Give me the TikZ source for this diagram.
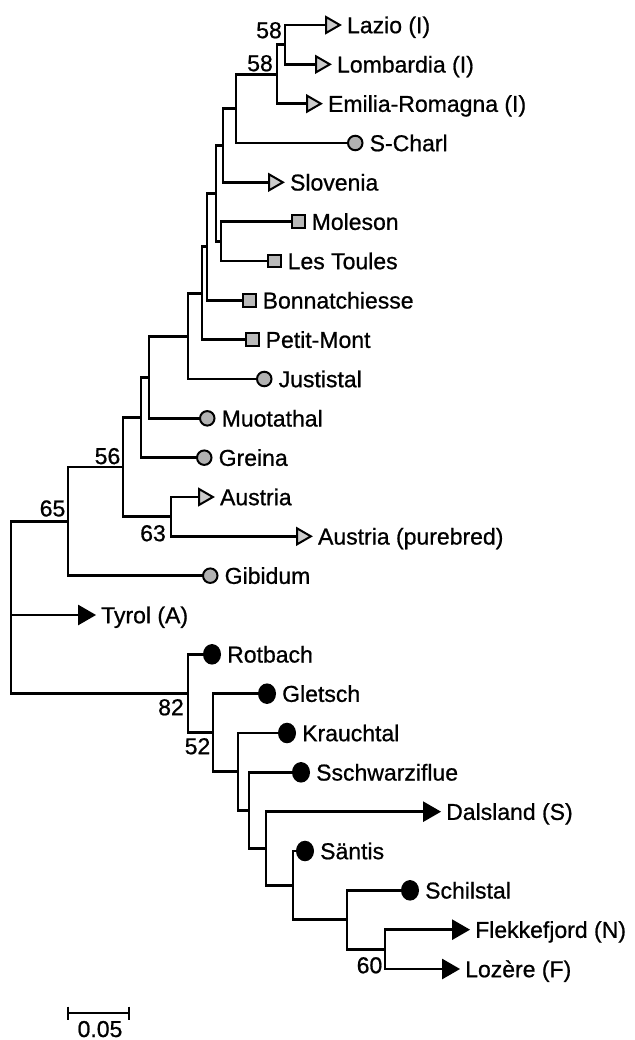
\documentclass[tikz,border=0pt]{standalone}
\usepackage{fontspec}
\setmainfont{Liberation Sans}
\newfontfamily\lblfont{Liberation Sans}[FakeBold=0.8]
\usetikzlibrary{shapes.geometric}
\tikzset{
  br/.style={line width=2.8pt, line join=miter, draw=black},
  mk/.style={inner sep=0pt, outer sep=0pt, line width=2pt, draw=black, anchor=west},
  otri/.style={mk, regular polygon, regular polygon sides=3, shape border rotate=-90, minimum size=18.5pt, fill=gray!40},
  ftri/.style={mk, regular polygon, regular polygon sides=3, shape border rotate=-90, minimum size=20pt, fill=black},
  gsq/.style={mk, rectangle, minimum size=12.5pt, fill=gray!55},
  gcirc/.style={mk, circle, minimum size=14.5pt, fill=gray!60},
  bcirc/.style={mk, ellipse, minimum width=16pt, minimum height=18.5pt, fill=black},
  lbl/.style={anchor=base west, inner sep=0pt, font=\lblfont\fontsize{23}{27}\selectfont},
  bs/.style={inner sep=0pt, font=\lblfont\fontsize{23}{27}\selectfont}
}
\begin{document}
\begin{tikzpicture}[x=1pt, y=-1pt]
\useasboundingbox (0,0) rectangle (634,1040);
% leaf markers
\node[otri] (mLazio) at (326,25) {};
\node[otri] (mLomb) at (316,64.33) {};
\node[otri] (mEmil) at (307,103.67) {};
\node[gcirc] (mSCharl) at (348,143) {};
\node[otri] (mSlov) at (269,182.33) {};
\node[gsq] (mMoles) at (292,221.67) {};
\node[gsq] (mToules) at (268,261) {};
\node[gsq] (mBonn) at (243,300.33) {};
\node[gsq] (mPetit) at (246,339.67) {};
\node[gcirc] (mJust) at (257,379) {};
\node[gcirc] (mMuot) at (200,418.33) {};
\node[gcirc] (mGrei) at (197,457.67) {};
\node[otri] (mAust) at (199,497) {};
\node[otri] (mAustP) at (297,536.33) {};
\node[gcirc] (mGibi) at (203,575.67) {};
\node[ftri] (mTyrol) at (79,615) {};
\node[bcirc] (mRotb) at (204,654.33) {};
\node[bcirc] (mGlet) at (259,693.67) {};
\node[bcirc] (mKrau) at (279,733) {};
\node[bcirc] (mSsch) at (293,772.33) {};
\node[ftri] (mDals) at (424,811.67) {};
\node[bcirc] (mSant) at (297,851) {};
\node[bcirc] (mSchi) at (402,890.33) {};
\node[ftri] (mFlek) at (453,929.67) {};
\node[ftri] (mLoze) at (443,969) {};
% leaf texts
\node[lbl] (tLazio) at ([shift={(7pt,-8.2pt)}]mLazio.east) {Lazio (I)};
\node[lbl] (tLomb) at ([shift={(7pt,-8.2pt)}]mLomb.east) {Lombardia (I)};
\node[lbl] (tEmil) at ([shift={(7pt,-8.2pt)}]mEmil.east) {Emilia-Romagna (I)};
\node[lbl] (tSCharl) at ([shift={(7pt,-8.2pt)}]mSCharl.east) {S-Charl};
\node[lbl] (tSlov) at ([shift={(7pt,-8.2pt)}]mSlov.east) {Slovenia};
\node[lbl] (tMoles) at ([shift={(7pt,-8.2pt)}]mMoles.east) {Moleson};
\node[lbl] (tToules) at ([shift={(7pt,-8.2pt)}]mToules.east) {Les Toules};
\node[lbl] (tBonn) at ([shift={(7pt,-8.2pt)}]mBonn.east) {Bonnatchiesse};
\node[lbl] (tPetit) at ([shift={(7pt,-8.2pt)}]mPetit.east) {Petit-Mont};
\node[lbl] (tJust) at ([shift={(7pt,-8.2pt)}]mJust.east) {Justistal};
\node[lbl] (tMuot) at ([shift={(7pt,-8.2pt)}]mMuot.east) {Muotathal};
\node[lbl] (tGrei) at ([shift={(7pt,-8.2pt)}]mGrei.east) {Greina};
\node[lbl] (tAust) at ([shift={(7pt,-8.2pt)}]mAust.east) {Austria};
\node[lbl] (tAustP) at ([shift={(7pt,-8.2pt)}]mAustP.east) {Austria (purebred)};
\node[lbl] (tGibi) at ([shift={(7pt,-8.2pt)}]mGibi.east) {Gibidum};
\node[lbl] (tTyrol) at ([shift={(7pt,-8.2pt)}]mTyrol.east) {Tyrol (A)};
\node[lbl] (tRotb) at ([shift={(7pt,-8.2pt)}]mRotb.east) {Rotbach};
\node[lbl] (tGlet) at ([shift={(7pt,-8.2pt)}]mGlet.east) {Gletsch};
\node[lbl] (tKrau) at ([shift={(7pt,-8.2pt)}]mKrau.east) {Krauchtal};
\node[lbl] (tSsch) at ([shift={(7pt,-8.2pt)}]mSsch.east) {Sschwarziflue};
\node[lbl] (tDals) at ([shift={(7pt,-8.2pt)}]mDals.east) {Dalsland (S)};
\node[lbl] (tSant) at ([shift={(7pt,-8.2pt)}]mSant.east) {Säntis};
\node[lbl] (tSchi) at ([shift={(7pt,-8.2pt)}]mSchi.east) {Schilstal};
\node[lbl] (tFlek) at ([shift={(7pt,-8.2pt)}]mFlek.east) {Flekkefjord (N)};
\node[lbl] (tLoze) at ([shift={(7pt,-8.2pt)}]mLoze.east) {Lozère (F)};
% internal nodes
\coordinate (n58a) at (285,44.67);
\coordinate (n58b) at (277,74.17);
\coordinate (nSC) at (236,108.58);
\coordinate (nSlo) at (223,145.46);
\coordinate (nMol) at (221,241.33);
\coordinate (nA) at (216,193.40);
\coordinate (nB) at (207,246.87);
\coordinate (nC) at (202,293.27);
\coordinate (nD) at (188,336.13);
\coordinate (nE) at (149,377.23);
\coordinate (nF) at (141,417.45);
\coordinate (n63) at (171,516.67);
\coordinate (n56) at (123,467.06);
\coordinate (n65) at (68,521.36);
\coordinate (root) at (11,615);
\coordinate (n60) at (385,949.33);
\coordinate (nSch) at (347,919.83);
\coordinate (nSa) at (293,885.42);
\coordinate (nD2) at (266,848.54);
\coordinate (nS) at (249,810.44);
\coordinate (nK) at (238,771.72);
\coordinate (n52) at (213,732.69);
\coordinate (n82) at (188,693.51);
% branches
\draw[br] (root) |- (n65);
\draw[br] (root) |- (mTyrol.west);
\draw[br] (root) |- (n82);
\draw[br] (n65) |- (n56);
\draw[br] (n65) |- (mGibi.west);
\draw[br] (n56) |- (nF);
\draw[br] (n56) |- (n63);
\draw[br] (n63) |- (mAust.west);
\draw[br] (n63) |- (mAustP.west);
\draw[br] (nF) |- (nE);
\draw[br] (nF) |- (mGrei.west);
\draw[br] (nE) |- (nD);
\draw[br] (nE) |- (mMuot.west);
\draw[br] (nD) |- (nC);
\draw[br] (nD) |- (mJust.west);
\draw[br] (nC) |- (nB);
\draw[br] (nC) |- (mPetit.west);
\draw[br] (nB) |- (nA);
\draw[br] (nB) |- (mBonn.west);
\draw[br] (nA) |- (nSlo);
\draw[br] (nA) |- (nMol);
\draw[br] (nMol) |- (mMoles.west);
\draw[br] (nMol) |- (mToules.west);
\draw[br] (nSlo) |- (nSC);
\draw[br] (nSlo) |- (mSlov.west);
\draw[br] (nSC) |- (n58b);
\draw[br] (nSC) |- (mSCharl.west);
\draw[br] (n58b) |- (n58a);
\draw[br] (n58b) |- (mEmil.west);
\draw[br] (n58a) |- (mLazio.west);
\draw[br] (n58a) |- (mLomb.west);
\draw[br] (n82) |- (mRotb.west);
\draw[br] (n82) |- (n52);
\draw[br] (n52) |- (mGlet.west);
\draw[br] (n52) |- (nK);
\draw[br] (nK) |- (mKrau.west);
\draw[br] (nK) |- (nS);
\draw[br] (nS) |- (mSsch.west);
\draw[br] (nS) |- (nD2);
\draw[br] (nD2) |- (mDals.west);
\draw[br] (nD2) |- (nSa);
\draw[br] (nSa) |- (mSant.west);
\draw[br] (nSa) |- (nSch);
\draw[br] (nSch) |- (mSchi.west);
\draw[br] (nSch) |- (n60);
\draw[br] (n60) |- (mFlek.west);
\draw[br] (n60) |- (mLoze.west);
% bootstrap values
\node[bs, anchor=base east] (b58a) at ([shift={(-3pt,6.5pt)}]n58a) {58};
\node[bs, anchor=base east] (b58b) at ([shift={(-4pt,3pt)}]n58b) {58};
\node[bs, anchor=base east] (b56) at ([shift={(-2.5pt,3pt)}]n56) {56};
\node[bs, anchor=base east] (b65) at ([shift={(-2.5pt,5pt)}]n65) {65};
\node[bs, anchor=base east] (b63) at ([shift={(-5pt,-24.5pt)}]n63) {63};
\node[bs, anchor=base east] (b82) at ([shift={(-4pt,-21.7pt)}]n82) {82};
\node[bs, anchor=base east] (b52) at ([shift={(-2.5pt,-21.5pt)}]n52) {52};
\node[bs, anchor=base east] (b60) at ([shift={(-2.5pt,-23.9pt)}]n60) {60};
% scale bar
\coordinate (sbL) at (68,1013);
\coordinate (sbR) at (129,1013);
\draw[br] (sbL) -- (sbR);
\draw[br] ([yshift=6.5pt]sbL) -- ([yshift=-6.5pt]sbL);
\draw[br] ([yshift=6.5pt]sbR) -- ([yshift=-6.5pt]sbR);
\node[bs, anchor=base] (sbT) at (100,1037) {0.05};
\end{tikzpicture}
\end{document}
